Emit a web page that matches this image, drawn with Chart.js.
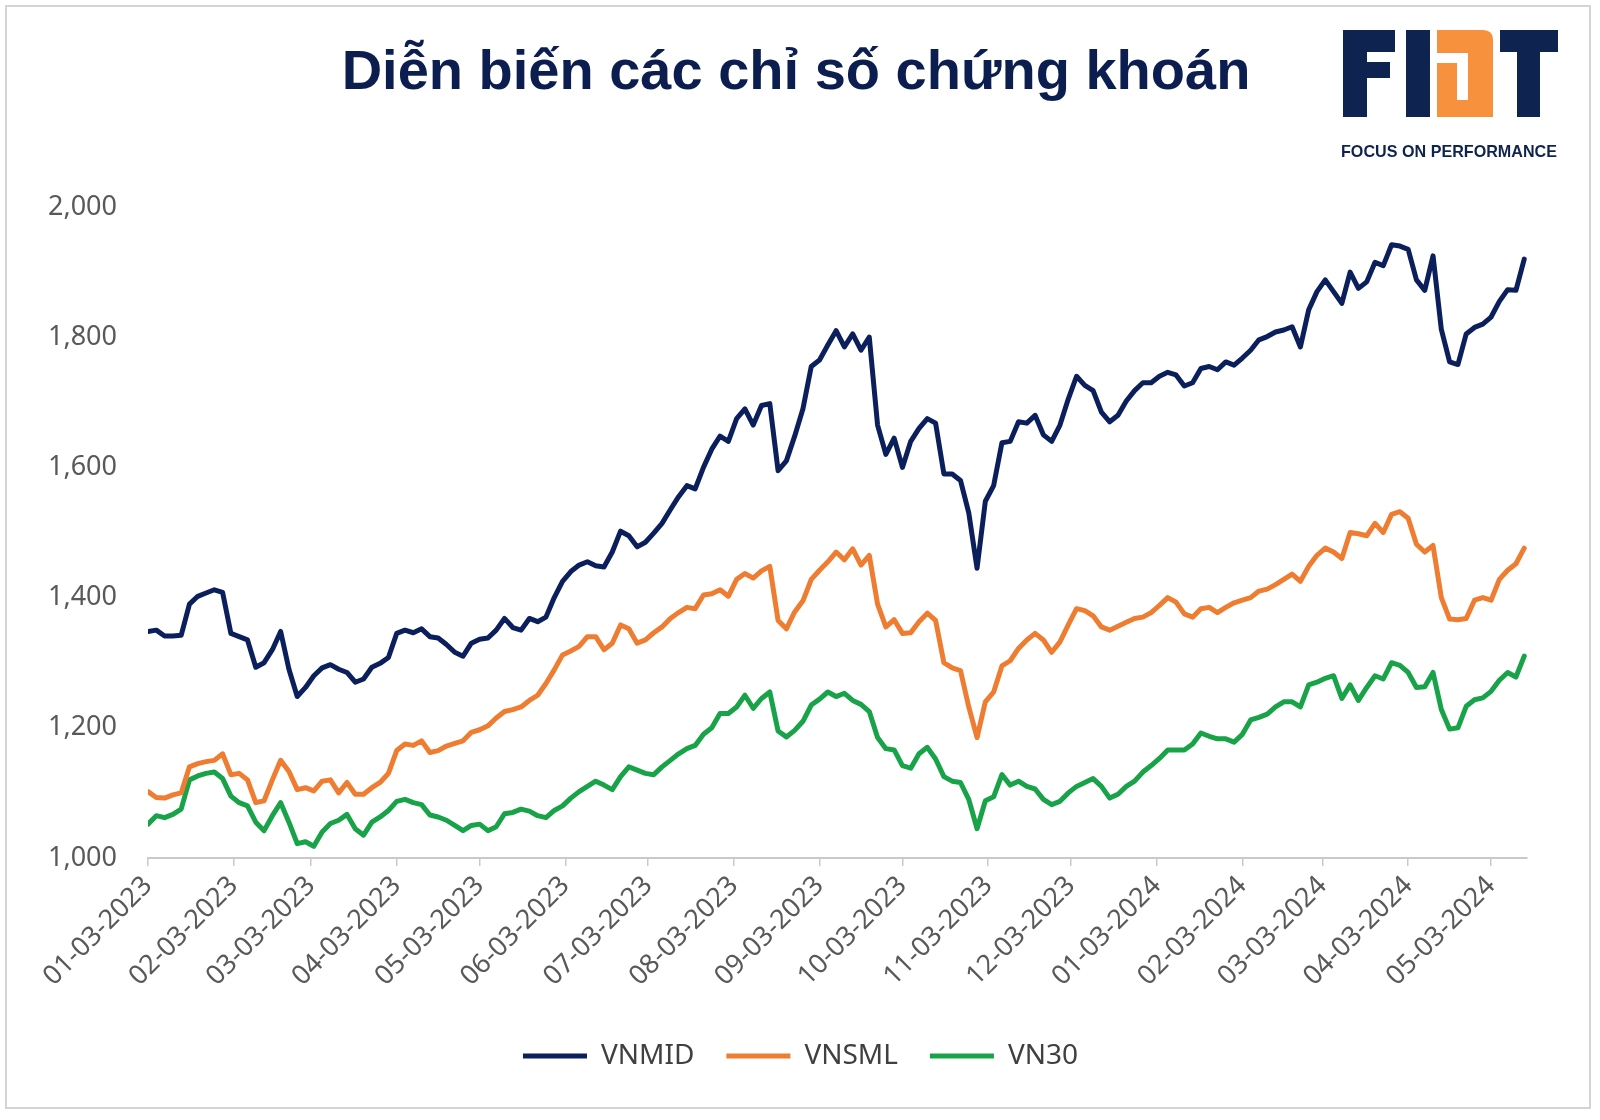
<!DOCTYPE html>
<html>
<head>
<meta charset="utf-8">
<script src="https://cdn.jsdelivr.net/npm/chart.js@4.4.1/dist/chart.umd.min.js"></script>
<style>
  html, body { margin: 0; padding: 0; background: #fff; }
  canvas { display: block; }
</style>
</head>
<body>
<canvas id="indexChart" width="1600" height="1120"></canvas>
<script>
const chartTitle = "Diễn biến các chỉ số chứng khoán";
const logoText = "FOCUS ON PERFORMANCE";
const startDate = "01-03-2023";
const stepDays = 3; // one reading every 3 calendar days
const tickLabels = ["01-03-2023", "02-03-2023", "03-03-2023", "04-03-2023", "05-03-2023", "06-03-2023",
  "07-03-2023", "08-03-2023", "09-03-2023", "10-03-2023", "11-03-2023", "12-03-2023",
  "01-03-2024", "02-03-2024", "03-03-2024", "04-03-2024", "05-03-2024"];
const seriesNames = ["VNMID", "VNSML", "VN30"];

const vnmid = [
  1348, 1350, 1341, 1341, 1342, 1390, 1402, 1407, 1412, 1408,
  1345, 1340, 1335, 1293, 1300, 1320, 1348, 1290, 1248, 1262,
  1280, 1292, 1297, 1290, 1285, 1270, 1275, 1293, 1299, 1308,
  1345, 1350, 1346, 1352, 1340, 1338, 1328, 1316, 1310, 1330,
  1336, 1338, 1350, 1368, 1354, 1350, 1368, 1363, 1370, 1400,
  1425, 1440, 1450, 1455, 1449, 1447, 1470, 1502, 1495, 1478,
  1485, 1499, 1514, 1535, 1555, 1572, 1567, 1600, 1628, 1648,
  1640, 1675, 1690, 1665, 1695, 1698, 1595, 1610, 1648, 1690,
  1755, 1765, 1788, 1810, 1785, 1805, 1780, 1800, 1665, 1620,
  1645, 1600, 1640, 1660, 1675, 1668, 1590, 1590, 1580, 1530,
  1445, 1548, 1572, 1638, 1640, 1670, 1668, 1680, 1650, 1640,
  1665, 1705, 1740, 1726, 1718, 1685, 1670, 1680, 1702, 1718,
  1730, 1730, 1740, 1746, 1742, 1725, 1730, 1752, 1755, 1750,
  1762, 1757, 1768, 1780, 1796, 1801, 1808, 1811, 1816, 1785,
  1842, 1870, 1888, 1870, 1852, 1900, 1875, 1885, 1915, 1910,
  1942, 1940, 1935, 1888, 1872, 1925, 1812, 1762, 1758, 1805,
  1815, 1820, 1831, 1855, 1873, 1872, 1920
];
const vnsml = [
  1102, 1093, 1092, 1097, 1100, 1140, 1145, 1148, 1150, 1160,
  1128, 1130, 1120, 1085, 1088, 1120, 1150, 1133, 1105, 1108,
  1103, 1118, 1120, 1100, 1116, 1098, 1098, 1108, 1116, 1130,
  1165, 1175, 1173, 1180, 1162, 1165, 1172, 1176, 1180, 1193,
  1197, 1203, 1215, 1225, 1228, 1232, 1242, 1250, 1268, 1289,
  1312, 1318, 1325, 1340, 1340, 1320, 1330, 1358, 1352, 1330,
  1335, 1346, 1355, 1368, 1377, 1385, 1383, 1404, 1406, 1412,
  1402, 1428, 1437, 1430, 1441, 1448, 1365, 1352, 1378, 1395,
  1428, 1442, 1455, 1470, 1458, 1475, 1450, 1465, 1390, 1355,
  1366, 1345, 1346, 1363, 1376, 1365, 1300, 1292, 1288, 1232,
  1185, 1240, 1255, 1295, 1303, 1322, 1335, 1345, 1335, 1316,
  1332, 1358, 1383, 1380, 1372, 1355, 1350, 1356, 1362, 1368,
  1370, 1377, 1388, 1400, 1393, 1375, 1370, 1383, 1385, 1377,
  1385, 1392, 1396, 1400, 1410, 1413, 1420, 1428, 1436, 1425,
  1448, 1465, 1476, 1470, 1460, 1500, 1498, 1495, 1514, 1500,
  1528, 1532, 1522, 1482, 1470, 1480, 1400, 1367, 1366, 1368,
  1396, 1400, 1396, 1428, 1442, 1452, 1476
];
const vn30 = [
  1052, 1065, 1062, 1067, 1075, 1120, 1126, 1130, 1132, 1122,
  1095, 1085, 1080, 1055, 1042, 1065, 1085, 1055, 1022, 1025,
  1018, 1040, 1053, 1058, 1067, 1045, 1035, 1055, 1063, 1073,
  1087, 1090, 1085, 1082, 1066, 1063, 1058, 1050, 1042, 1050,
  1052, 1042, 1048, 1068, 1070, 1075, 1072, 1065, 1062, 1073,
  1080, 1092, 1102, 1110, 1118, 1112, 1105, 1125, 1140, 1135,
  1130, 1128, 1140, 1150, 1160, 1168, 1173, 1190, 1200, 1222,
  1222, 1232, 1250, 1230, 1245, 1255, 1195, 1186, 1196, 1210,
  1235, 1244, 1255, 1248, 1253, 1242, 1236, 1225, 1185, 1168,
  1166, 1142, 1138, 1160, 1170, 1152, 1125, 1118, 1116, 1090,
  1045, 1088, 1094, 1128, 1112, 1118, 1110, 1106, 1090, 1082,
  1087, 1100, 1110, 1116, 1122, 1110, 1092, 1098, 1110, 1118,
  1132, 1142, 1153, 1166, 1166, 1166, 1175, 1192, 1187, 1183,
  1183, 1178, 1190, 1212, 1216, 1221, 1232, 1240, 1240, 1232,
  1266, 1270, 1276, 1280, 1245, 1266, 1242, 1262, 1280, 1275,
  1300, 1296, 1285, 1262, 1263, 1285, 1228, 1198, 1200, 1233,
  1243, 1246, 1256, 1273, 1285, 1278, 1310
];

const colors = ["#0b1f5c", "#ee7d31", "#18a349"];
const navy = "#0f2350";
const logoOrange = "#f7913d";

function dayOffset(label) {
  const [m, d, y] = label.split("-").map(Number);
  const [m0, d0, y0] = startDate.split("-").map(Number);
  return Math.round((Date.UTC(y, m - 1, d) - Date.UTC(y0, m0 - 1, d0)) / 86400000);
}
const tickDays = tickLabels.map(dayOffset);

function toPoints(values) {
  return values.map((v, i) => ({ x: i * stepDays, y: v }));
}

const frameAndLogo = {
  id: "frameAndLogo",
  afterLayout(chart) {
    // the legend sits a little right of the plot's centre in the original
    chart.legend.left += 27;
    chart.legend.right += 27;
  },
  beforeDraw(chart) {
    const ctx = chart.ctx;
    ctx.save();
    ctx.fillStyle = "#ffffff";
    ctx.fillRect(0, 0, chart.width, chart.height);
    ctx.strokeStyle = "#d4d4d4";
    ctx.lineWidth = 2;
    ctx.strokeRect(6, 6, 1584, 1102);
    ctx.restore();
  },
  afterDraw(chart) {
    const ctx = chart.ctx;
    ctx.save();
    // title
    ctx.fillStyle = "#0c1e4f";
    ctx.font = 'bold 56px "Liberation Sans", Arial, sans-serif';
    ctx.textAlign = "center";
    ctx.textBaseline = "alphabetic";
    ctx.fillText(chartTitle, 796, 89);

    // logo FIDT
    ctx.fillStyle = navy;
    ctx.fillRect(1343, 30, 24, 87);   // F stem
    ctx.fillRect(1343, 30, 52, 22);   // F top
    ctx.fillRect(1343, 62, 47, 16);   // F middle
    ctx.fillRect(1406, 30, 24, 87);   // I
    ctx.fillRect(1500, 30, 58, 22);   // T top
    ctx.fillRect(1517, 30, 23, 87);   // T stem
    ctx.fillStyle = logoOrange;
    ctx.beginPath();
    ctx.moveTo(1437, 30);
    ctx.lineTo(1483, 30);
    ctx.quadraticCurveTo(1493, 30, 1493, 40);
    ctx.lineTo(1493, 117);
    ctx.lineTo(1437, 117);
    ctx.lineTo(1437, 63);
    ctx.lineTo(1457, 63);
    ctx.lineTo(1457, 100);
    ctx.lineTo(1468, 100);
    ctx.lineTo(1468, 53);
    ctx.lineTo(1437, 53);
    ctx.closePath();
    ctx.fill();

    ctx.fillStyle = navy;
    ctx.font = 'bold 16.5px "Liberation Sans", Arial, sans-serif';
    ctx.textAlign = "left";
    ctx.fillText(logoText, 1341, 157, 216);
    ctx.restore();
  }
};

const datasets = [vnmid, vnsml, vn30].map((vals, i) => ({
  label: seriesNames[i],
  data: toPoints(vals),
  borderColor: colors[i],
  backgroundColor: colors[i],
  borderWidth: 5,
  borderCapStyle: "round",
  borderJoinStyle: "round",
  pointRadius: 0,
  pointHoverRadius: 0,
  tension: 0
}));

new Chart(document.getElementById("indexChart"), {
  type: "line",
  data: { datasets },
  plugins: [frameAndLogo],
  options: {
    responsive: false,
    animation: false,
    layout: { padding: { left: 20, right: 73, top: 207, bottom: 40 } },
    plugins: {
      title: { display: false },
      tooltip: { enabled: false },
      legend: {
        position: "bottom",
        labels: {
          usePointStyle: true,
          pointStyle: "line",
          pointStyleWidth: 64,
          boxHeight: 28,
          padding: 32,
          color: "#404040",
          font: { family: '"Noto Sans", sans-serif', size: 28 }
        }
      }
    },
    scales: {
      x: {
        type: "linear",
        min: 0,
        max: 499,
        afterFit: (scale) => { scale.height = 152; },
        afterBuildTicks: (scale) => {
          scale.ticks = tickDays.map(v => ({ value: v }));
        },
        ticks: {
          autoSkip: false,
          minRotation: 45,
          maxRotation: 45,
          padding: 4,
          color: "#595959",
          font: { family: '"Noto Sans", sans-serif', size: 27 },
          callback: (value) => tickLabels[tickDays.indexOf(value)]
        },
        grid: { display: true, drawOnChartArea: false, drawTicks: true, tickLength: 8, color: "#c9c9c9", lineWidth: 1.5 },
        border: { display: true, color: "#c9c9c9", width: 2 }
      },
      y: {
        min: 1000,
        max: 2000,
        afterFit: (scale) => { scale.width = 128; },
        ticks: {
          stepSize: 200,
          padding: 31,
          color: "#595959",
          font: { family: '"Noto Sans", sans-serif', size: 27 },
          callback: (value) => value.toLocaleString("en-US")
        },
        grid: { display: false, drawTicks: false },
        border: { display: false }
      }
    }
  }
});
</script>
</body>
</html>
